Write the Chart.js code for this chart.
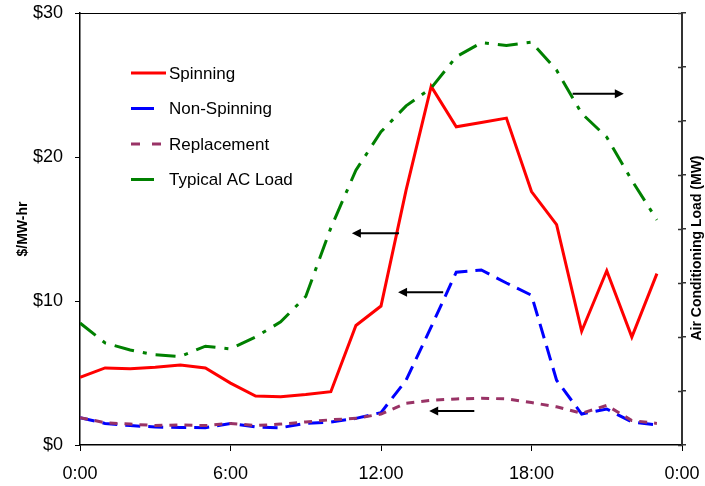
<!DOCTYPE html>
<html>
<head>
<meta charset="utf-8">
<script src="https://cdn.jsdelivr.net/npm/chart.js@4"></script>
<style>
  body { margin: 0; background: #fff; }
  canvas { display: block; }
</style>
</head>
<body>
<canvas id="reserveChart" width="705" height="486"></canvas>
<script>
// hour of day, 0..23
var hours = [0, 1, 2, 3, 4, 5, 6, 7, 8, 9, 10, 11, 12, 13, 14, 15, 16, 17, 18, 19, 20, 21, 22, 23];

// $/MW-hr
var spinning = [4.7, 5.35, 5.3, 5.4, 5.55, 5.35, 4.3, 3.4, 3.35, 3.5, 3.7, 8.3, 9.65, 17.7, 24.9, 22.1, 22.4, 22.7, 17.6, 15.3, 7.9, 12.1, 7.5, 11.9];
var nonSpinning = [1.9, 1.5, 1.35, 1.25, 1.22, 1.2, 1.5, 1.25, 1.2, 1.5, 1.6, 1.85, 2.25, 4.5, 8.2, 12.0, 12.15, 11.25, 10.4, 4.5, 2.15, 2.5, 1.6, 1.4];
var replacement = [1.9, 1.55, 1.45, 1.35, 1.4, 1.35, 1.5, 1.35, 1.45, 1.6, 1.75, 1.85, 2.15, 2.9, 3.1, 3.2, 3.25, 3.2, 2.95, 2.65, 2.2, 2.75, 1.7, 1.5];

// AC load, right axis (unlabelled units, 8 divisions)
var acLoad = [2.26, 1.89, 1.76, 1.67, 1.64, 1.83, 1.78, 2.0, 2.28, 2.75, 4.02, 5.09, 5.8, 6.28, 6.61, 7.19, 7.45, 7.4, 7.46, 6.94, 6.14, 5.7, 4.9, 4.17];

var xTicks = [0, 6, 12, 18, 24];
var priceTicks = [0, 10, 20, 30];

function pts(vals) {
  return hours.map(function (h, i) { return { x: h, y: vals[i] }; });
}

// arrows pointing at the axis each curve belongs to (hour, value on left axis)
var arrows = [
  { x1: 12.72, x2: 10.84, y: 14.7 },
  { x1: 14.48, x2: 12.68, y: 10.6 },
  { x1: 15.72, x2: 13.92, y: 2.36 },
  { x1: 19.64, x2: 21.68, y: 24.4 }
];

var FONT = "'Liberation Sans', Arial, sans-serif";

function noPad(s) {
  s.paddingLeft = 0; s.paddingRight = 0; s.paddingTop = 0; s.paddingBottom = 0;
}

var extras = {
  id: "extras",
  afterDraw: function (chart) {
    var c = chart.ctx, a = chart.chartArea;
    var xs = chart.scales.x, ys = chart.scales.y, y2 = chart.scales.y2;
    c.save();
    // top frame line
    c.strokeStyle = "#000";
    c.lineWidth = 1;
    c.beginPath();
    c.moveTo(a.left, a.top + 0.5);
    c.lineTo(a.right, a.top + 0.5);
    c.stroke();
    // inner half of right-axis ticks
    c.strokeStyle = "#333";
    c.lineWidth = 1.5;
    y2.ticks.forEach(function (t) {
      var py = Math.round(y2.getPixelForValue(t.value)) + 0.5;
      c.beginPath();
      c.moveTo(a.right - 4, py);
      c.lineTo(a.right, py);
      c.stroke();
    });
    // right axis title, reading bottom to top
    c.save();
    c.translate(697, 248);
    c.rotate(-Math.PI / 2);
    c.font = "bold 14px " + FONT;
    c.fillStyle = "#000";
    c.textAlign = "center";
    c.textBaseline = "middle";
    c.fillText("Air Conditioning Load (MW)", 0, 0);
    c.restore();
    // arrows
    c.strokeStyle = "#000";
    c.fillStyle = "#000";
    c.lineWidth = 2;
    arrows.forEach(function (ar) {
      var px1 = xs.getPixelForValue(ar.x1), px2 = xs.getPixelForValue(ar.x2);
      var py = ys.getPixelForValue(ar.y);
      var dir = px2 > px1 ? 1 : -1;
      c.beginPath();
      c.moveTo(px1, py);
      c.lineTo(px2 - dir * 6, py);
      c.stroke();
      c.beginPath();
      c.moveTo(px2, py);
      c.lineTo(px2 - dir * 9, py - 4.5);
      c.lineTo(px2 - dir * 9, py + 4.5);
      c.closePath();
      c.fill();
    });
    // legend
    var rows = [
      { label: "Spinning", color: "#FF0000", dash: [] },
      { label: "Non-Spinning", color: "#0000FF", dash: [23, 100] },
      { label: "Replacement", color: "#993366", dash: [9, 12] },
      { label: "Typical AC Load", color: "#008000", dash: [23, 100] }
    ];
    var lx = 131, ly = 73, gap = 35.5;
    c.font = "17px " + FONT;
    c.textBaseline = "middle";
    rows.forEach(function (r, i) {
      var yy = ly + i * gap;
      c.strokeStyle = r.color;
      c.lineWidth = 3;
      c.setLineDash(r.dash);
      c.beginPath();
      c.moveTo(lx, yy);
      c.lineTo(lx + 35, yy);
      c.stroke();
      c.setLineDash([]);
      c.fillStyle = "#000";
      c.fillText(r.label, lx + 38, yy + 1);
    });
    c.restore();
  }
};

var ctx = document.getElementById("reserveChart").getContext("2d");
var reserveChart = new Chart(ctx, {
  type: "line",
  data: {
    datasets: [
      {
        label: "Typical AC Load",
        data: pts(acLoad),
        yAxisID: "y2",
        borderColor: "#008000",
        borderWidth: 3,
        borderDash: [20, 9, 4, 9],
      },
      {
        label: "Replacement",
        data: pts(replacement),
        borderColor: "#993366",
        borderWidth: 3,
        borderDash: [8, 7],
      },
      {
        label: "Non-Spinning",
        data: pts(nonSpinning),
        borderColor: "#0000FF",
        borderWidth: 3,
        borderDash: [15, 8],
      },
      {
        label: "Spinning",
        data: pts(spinning),
        borderColor: "#FF0000",
        borderWidth: 3,
      },
    ],
  },
  options: {
    responsive: false,
    animation: false,
    devicePixelRatio: 1,
    layout: { padding: { top: 13, left: 0, right: 0, bottom: 0 } },
    elements: { point: { radius: 0 }, line: { tension: 0, fill: false } },
    scales: {
      x: {
        type: "linear",
        min: 0,
        max: 24,
        afterBuildTicks: function (s) { s.ticks = xTicks.map(function (v) { return { value: v }; }); },
        afterFit: function (s) { s.height = 41; noPad(s); },
        grid: { display: true, drawOnChartArea: false, tickLength: 6, color: "#000" },
        border: { color: "#000", width: 1.5 },
        ticks: {
          padding: 12,
          color: "#000",
          font: { family: FONT, size: 18 },
          maxRotation: 0,
          callback: function (v) { return (v % 24) + ":00"; },
        },
      },
      y: {
        position: "left",
        min: 0,
        max: 30,
        afterBuildTicks: function (s) { s.ticks = priceTicks.map(function (v) { return { value: v }; }); },
        afterFit: function (s) { s.width = 80; noPad(s); },
        grid: { display: true, drawOnChartArea: false, tickLength: 5, color: "#000" },
        border: { color: "#000", width: 1.5 },
        ticks: {
          padding: 12,
          color: "#000",
          font: { family: FONT, size: 18 },
          callback: function (v) { return "$" + v; },
        },
        title: {
          display: true,
          text: "$/MW-hr",
          color: "#000",
          font: { family: FONT, size: 14, weight: "bold" },
          padding: { top: 15, bottom: 0 },
        },
      },
      y2: {
        position: "right",
        min: 0,
        max: 8,
        afterFit: function (s) { s.width = 23; noPad(s); },
        grid: { display: true, drawOnChartArea: false, tickLength: 4, color: "#333", lineWidth: 1.5 },
        border: { color: "#333", width: 2 },
        ticks: { stepSize: 1, display: false },
      },
    },
    plugins: {
      legend: { display: false },
      tooltip: { enabled: false },
    },
  },
  plugins: [extras],
});
</script>
</body>
</html>
